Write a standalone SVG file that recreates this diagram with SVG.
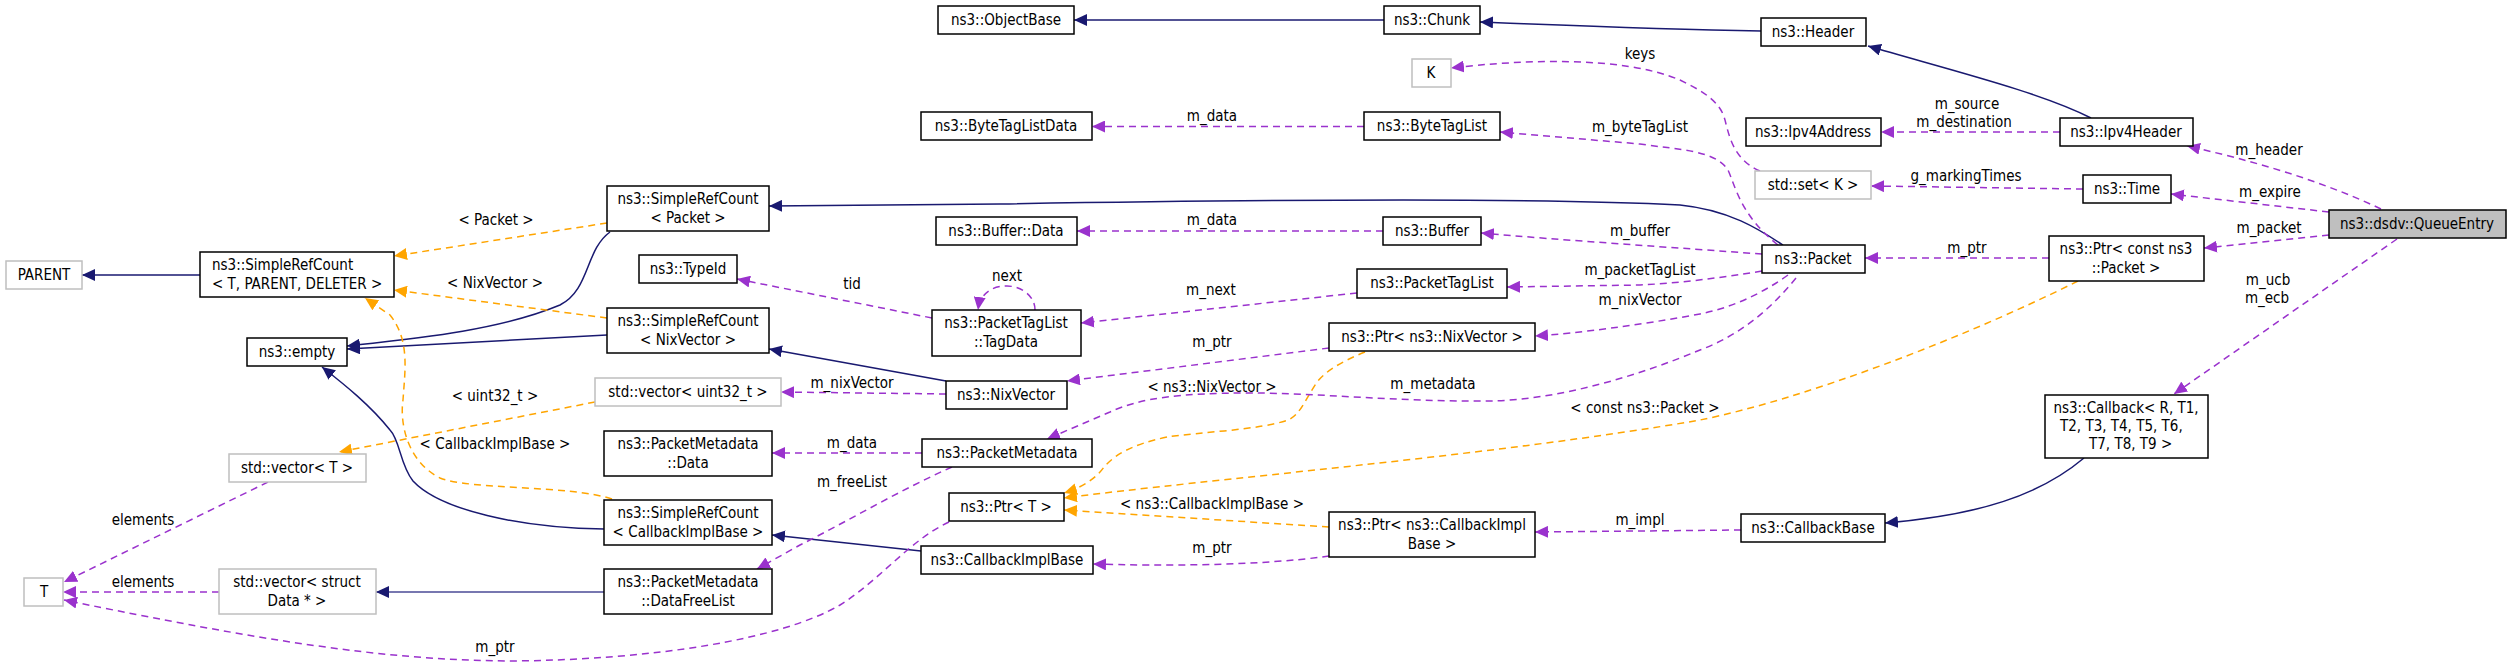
<svg xmlns="http://www.w3.org/2000/svg" width="2512" height="666" viewBox="0 0 2512 666">
<style>
text{font-family:"DejaVu Sans Condensed","DejaVu Sans",sans-serif;font-stretch:condensed;font-size:15px;fill:#000}
.n rect{fill:#fff;stroke:#000;stroke-width:1.5}
.g rect{fill:#fff;stroke:#bfbfbf;stroke-width:1.5}
.m text{text-anchor:middle}
.i{fill:none;stroke:#191970;stroke-width:1.5}
.u{fill:none;stroke:#9a32cd;stroke-width:1.5;stroke-dasharray:7,5}
.t{fill:none;stroke:#ffa500;stroke-width:1.5;stroke-dasharray:7,5}
.i{marker-end:url(#ai)}.u{marker-end:url(#au)}.t{marker-end:url(#at)}
.l{text-anchor:middle}
</style>
<defs>
<marker id="ai" markerUnits="userSpaceOnUse" markerWidth="14" markerHeight="12" refX="13" refY="6" orient="auto"><path d="M0,0 L13,6 L0,12 z" fill="#191970"/></marker>
<marker id="au" markerUnits="userSpaceOnUse" markerWidth="14" markerHeight="12" refX="13" refY="6" orient="auto"><path d="M0,0 L13,6 L0,12 z" fill="#9a32cd"/></marker>
<marker id="at" markerUnits="userSpaceOnUse" markerWidth="14" markerHeight="12" refX="13" refY="6" orient="auto"><path d="M0,0 L13,6 L0,12 z" fill="#ffa500"/></marker>
</defs>
<g id="edges">
<path class="i" d="M1384,20 L1074,20"/>
<path class="i" d="M1761,31 C1650,29 1560,25 1480,22"/>
<path class="i" d="M2091,118 C2040,92 1950,70 1868,46"/>
<path class="i" d="M1783,245 C1760,230 1730,210 1680,205 C1550,198 1300,199 1000,204 L769,206"/>
<path class="i" d="M610,232 C585,250 590,290 560,305 C500,330 420,338 347,346"/>
<path class="i" d="M607,335 L347,349"/>
<path class="i" d="M604,529 C520,528 440,510 413,481 C400,465 400,440 390,430 C370,405 345,385 322,367"/>
<path class="i" d="M200,275 L82,275"/>
<path class="i" d="M946,381 L769,349"/>
<path class="i" d="M921,551 L772,535"/>
<path class="i" d="M604,592 L376,592" style="stroke:#4a4a96"/>
<path class="i" d="M2084,458 C2040,495 1980,515 1885,523"/>
<path class="t" d="M607,223 L394,256"/>
<path class="t" d="M607,318 L394,290"/>
<path class="t" d="M612,499 C570,485 470,490 440,478 C405,460 400,420 403,400 C405,370 410,340 390,315 L365,298"/>
<path class="t" d="M595,402 L339,452"/>
<path class="t" d="M1365,352 C1340,362 1325,372 1317,382 C1305,400 1300,415 1288,420 C1260,430 1200,432 1167,437 C1130,445 1115,455 1104,467 C1095,480 1080,488 1064,493"/>
<path class="t" d="M2078,281 C1960,340 1800,400 1700,420 C1500,455 1200,480 1064,498"/>
<path class="t" d="M1329,527 L1064,510"/>
<path class="u" d="M1364,126.5 L1092,126.5"/>
<path class="u" d="M1760,171 C1735,160 1730,140 1725,120 C1720,100 1700,90 1680,80 C1620,55 1520,60 1451,68"/>
<path class="u" d="M1778,245 C1740,215 1735,185 1728,170 C1715,150 1680,150 1640,144 L1500,132"/>
<path class="u" d="M1383,231 L1077,231"/>
<path class="u" d="M1762,254 C1680,248 1560,240 1481,233"/>
<path class="u" d="M1762,271 C1720,278 1680,283 1640,285 L1507,287"/>
<path class="u" d="M1357,293 L1081,323"/>
<path class="u" d="M1035,310 C1035,295 1020,286 1007,286 C990,286 980,295 978,310"/>
<path class="u" d="M932,318 L737,279"/>
<path class="u" d="M1329,348 L1067,381"/>
<path class="u" d="M1788,275 C1760,295 1730,308 1700,314 C1640,325 1580,333 1535,336"/>
<path class="u" d="M946,394 L781,392"/>
<path class="u" d="M1796,278 C1770,310 1740,335 1700,350 C1640,375 1560,400 1489,401 C1400,402 1320,393 1250,393 C1180,393 1140,398 1110,412 L1047,439"/>
<path class="u" d="M922,453 L772,453"/>
<path class="u" d="M952,467 C900,490 850,520 800,545 L757,569"/>
<path class="u" d="M949,522 C910,540 880,580 840,605 C780,640 650,660 510,661 C380,660 260,640 64,600"/>
<path class="u" d="M268,482 L64,582"/>
<path class="u" d="M219,592 L63,592"/>
<path class="u" d="M1329,556 C1260,566 1160,566 1093,564"/>
<path class="u" d="M1741,530 L1535,532"/>
<path class="u" d="M2060,132 L1881,132"/>
<path class="u" d="M2083,189 L1871,186"/>
<path class="u" d="M2381,209 C2320,180 2250,160 2187,146"/>
<path class="u" d="M2329,212 L2171,194"/>
<path class="u" d="M2329,235 L2204,248"/>
<path class="u" d="M2397,239 L2174,394"/>
<path class="u" d="M2049,258 L1865,258"/>
<g>
<text class="l" x="1212" y="121">m_data</text>
<text class="l" x="1640" y="59">keys</text>
<text class="l" x="1640" y="132">m_byteTagList</text>
<text class="l" x="1212" y="225">m_data</text>
<text class="l" x="1640" y="236">m_buffer</text>
<text class="l" x="1640" y="275">m_packetTagList</text>
<text class="l" x="1640" y="305">m_nixVector</text>
<text class="l" x="852" y="289">tid</text>
<text class="l" x="1007" y="281">next</text>
<text class="l" x="1211" y="295">m_next</text>
<text class="l" x="1212" y="347">m_ptr</text>
<text class="l" x="852" y="388">m_nixVector</text>
<text class="l" x="1212" y="392">&lt; ns3::NixVector &gt;</text>
<text class="l" x="1433" y="389">m_metadata</text>
<text class="l" x="1645" y="413">&lt; const ns3::Packet &gt;</text>
<text class="l" x="852" y="448">m_data</text>
<text class="l" x="852" y="487">m_freeList</text>
<text class="l" x="1212" y="509">&lt; ns3::CallbackImplBase &gt;</text>
<text class="l" x="1212" y="553">m_ptr</text>
<text class="l" x="1640" y="525">m_impl</text>
<text class="l" x="1967" y="109">m_source</text>
<text class="l" x="1964" y="127">m_destination</text>
<text class="l" x="2269" y="155">m_header</text>
<text class="l" x="1966" y="181">g_markingTimes</text>
<text class="l" x="2270" y="197">m_expire</text>
<text class="l" x="2269" y="233">m_packet</text>
<text class="l" x="1967" y="253">m_ptr</text>
<text class="l" x="2268" y="285">m_ucb</text>
<text class="l" x="2267" y="303">m_ecb</text>
<text class="l" x="496" y="225">&lt; Packet &gt;</text>
<text class="l" x="495" y="288">&lt; NixVector &gt;</text>
<text class="l" x="495" y="401">&lt; uint32_t &gt;</text>
<text class="l" x="495" y="449">&lt; CallbackImplBase &gt;</text>
<text class="l" x="143" y="525">elements</text>
<text class="l" x="143" y="587">elements</text>
<text class="l" x="495" y="652">m_ptr</text>
</g>
</g>
<g id="n_objectbase" class="n m"><rect x="938" y="6" width="136" height="28"/><text x="1006" y="25">ns3::ObjectBase</text></g>
<g id="n_chunk" class="n m"><rect x="1384" y="6" width="96" height="28"/><text x="1432" y="25">ns3::Chunk</text></g>
<g id="n_header" class="n m"><rect x="1761" y="18" width="105" height="28"/><text x="1813" y="37">ns3::Header</text></g>
<g id="n_k" class="g m"><rect x="1412" y="59" width="39" height="28"/><text x="1431" y="78">K</text></g>
<g id="n_bytetaglistdata" class="n m"><rect x="921" y="112" width="171" height="28"/><text x="1006" y="131">ns3::ByteTagListData</text></g>
<g id="n_bytetaglist" class="n m"><rect x="1364" y="112" width="136" height="28"/><text x="1432" y="131">ns3::ByteTagList</text></g>
<g id="n_ipv4address" class="n m"><rect x="1746" y="118" width="135" height="28"/><text x="1813" y="137">ns3::Ipv4Address</text></g>
<g id="n_ipv4header" class="n m"><rect x="2060" y="118" width="133" height="28"/><text x="2126" y="137">ns3::Ipv4Header</text></g>
<g id="n_setk" class="g m"><rect x="1755" y="171" width="116" height="28"/><text x="1813" y="190">std::set&lt; K &gt;</text></g>
<g id="n_time" class="n m"><rect x="2083" y="175" width="88" height="28"/><text x="2127" y="194">ns3::Time</text></g>
<g id="n_queueentry" class="n m"><rect x="2329" y="210" width="177" height="28" style="fill:#bfbfbf"/><text x="2417" y="229">ns3::dsdv::QueueEntry</text></g>
<g id="n_src_packet" class="n m"><rect x="607" y="186" width="162" height="45"/><text x="688" y="204">ns3::SimpleRefCount</text><text x="688" y="223">&lt; Packet &gt;</text></g>
<g id="n_bufferdata" class="n m"><rect x="936" y="217" width="141" height="28"/><text x="1006" y="236">ns3::Buffer::Data</text></g>
<g id="n_buffer" class="n m"><rect x="1383" y="217" width="98" height="28"/><text x="1432" y="236">ns3::Buffer</text></g>
<g id="n_packet" class="n m"><rect x="1762" y="245" width="103" height="28"/><text x="1813" y="264">ns3::Packet</text></g>
<g id="n_ptr_const_packet" class="n m"><rect x="2049" y="236" width="155" height="45"/><text x="2126" y="254">ns3::Ptr&lt; const ns3</text><text x="2126" y="273">::Packet &gt;</text></g>
<g id="n_parent" class="g m"><rect x="6" y="261" width="76" height="28"/><text x="44" y="280">PARENT</text></g>
<g id="n_src_tpd" class="n"><rect x="200" y="252" width="194" height="45"/><text x="212" y="270">ns3::SimpleRefCount</text><text x="212" y="289">&lt; T, PARENT, DELETER &gt;</text></g>
<g id="n_typeid" class="n m"><rect x="639" y="255" width="98" height="28"/><text x="688" y="274">ns3::TypeId</text></g>
<g id="n_packettaglist" class="n m"><rect x="1357" y="269" width="150" height="29"/><text x="1432" y="288">ns3::PacketTagList</text></g>
<g id="n_tagdata" class="n m"><rect x="932" y="310" width="149" height="46"/><text x="1006" y="328">ns3::PacketTagList</text><text x="1006" y="347">::TagData</text></g>
<g id="n_ptr_nixvector" class="n m"><rect x="1329" y="323" width="206" height="28"/><text x="1432" y="342">ns3::Ptr&lt; ns3::NixVector &gt;</text></g>
<g id="n_empty" class="n m"><rect x="247" y="338" width="100" height="28"/><text x="297" y="357">ns3::empty</text></g>
<g id="n_src_nixvector" class="n m"><rect x="607" y="308" width="162" height="45"/><text x="688" y="326">ns3::SimpleRefCount</text><text x="688" y="345">&lt; NixVector &gt;</text></g>
<g id="n_vec_uint32" class="g m"><rect x="595" y="378" width="186" height="28"/><text x="688" y="397">std::vector&lt; uint32_t &gt;</text></g>
<g id="n_nixvector" class="n m"><rect x="946" y="381" width="121" height="28"/><text x="1006" y="400">ns3::NixVector</text></g>
<g id="n_callback" class="n"><rect x="2045" y="395" width="163" height="63"/><text x="2126" y="413" text-anchor="middle">ns3::Callback&lt; R, T1,</text><text x="2060" y="431">T2, T3, T4, T5, T6,</text><text x="2089" y="449">T7, T8, T9 &gt;</text></g>
<g id="n_vec_t" class="g m"><rect x="229" y="454" width="137" height="28"/><text x="297" y="473">std::vector&lt; T &gt;</text></g>
<g id="n_pm_data" class="n m"><rect x="604" y="431" width="168" height="45"/><text x="688" y="449">ns3::PacketMetadata</text><text x="688" y="468">::Data</text></g>
<g id="n_packetmetadata" class="n m"><rect x="922" y="439" width="170" height="28"/><text x="1007" y="458">ns3::PacketMetadata</text></g>
<g id="n_ptr_t" class="n m"><rect x="949" y="493" width="115" height="28"/><text x="1006" y="512">ns3::Ptr&lt; T &gt;</text></g>
<g id="n_src_cib" class="n m"><rect x="604" y="500" width="168" height="45"/><text x="688" y="518">ns3::SimpleRefCount</text><text x="688" y="537">&lt; CallbackImplBase &gt;</text></g>
<g id="n_ptr_cib" class="n m"><rect x="1329" y="512" width="206" height="45"/><text x="1432" y="530">ns3::Ptr&lt; ns3::CallbackImpl</text><text x="1432" y="549">Base &gt;</text></g>
<g id="n_callbackbase" class="n m"><rect x="1741" y="514" width="144" height="28"/><text x="1813" y="533">ns3::CallbackBase</text></g>
<g id="n_t" class="g m"><rect x="24" y="578" width="39" height="28"/><text x="44" y="597">T</text></g>
<g id="n_vec_struct" class="g m"><rect x="219" y="569" width="157" height="45"/><text x="297" y="587">std::vector&lt; struct</text><text x="297" y="606">Data * &gt;</text></g>
<g id="n_datafreelist" class="n m"><rect x="604" y="569" width="168" height="45"/><text x="688" y="587">ns3::PacketMetadata</text><text x="688" y="606">::DataFreeList</text></g>
<g id="n_callbackimplbase" class="n m"><rect x="921" y="546" width="172" height="28"/><text x="1007" y="565">ns3::CallbackImplBase</text></g>
</svg>
